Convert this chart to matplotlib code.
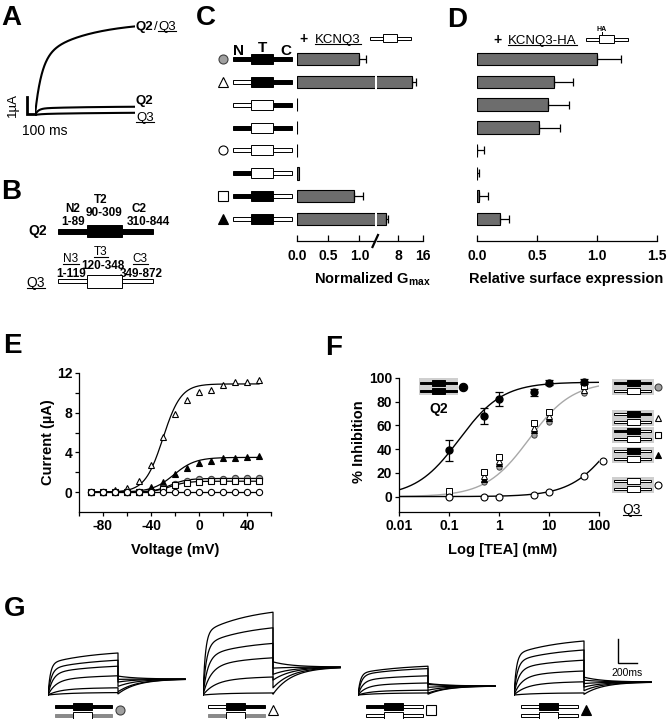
import numpy as np
import matplotlib
matplotlib.use('Agg')
import matplotlib.pyplot as plt
from matplotlib.patches import Rectangle
from matplotlib.lines import Line2D
from matplotlib.transforms import IdentityTransform

plt.rcParams['font.family'] = ['Liberation Sans', 'DejaVu Sans']
plt.rcParams['font.weight'] = 'bold'
plt.rcParams['axes.labelweight'] = 'bold'
plt.rcParams['axes.unicode_minus'] = False
plt.rcParams['mathtext.fontset'] = 'custom'
plt.rcParams['mathtext.rm'] = 'Liberation Sans'
plt.rcParams['mathtext.bf'] = 'Liberation Sans:bold'

W, H = 667, 719
BAR_GRAY = '#6d6d6d'

# ---------------- data ----------------
# chimeras: N-terminus, core (T), C-terminus   k = KCNQ2 part, w = KCNQ3 part
chimeras = [('k', 'k', 'k'), ('w', 'k', 'k'), ('w', 'w', 'k'), ('k', 'w', 'k'),
            ('w', 'w', 'w'), ('k', 'w', 'w'), ('k', 'k', 'w'), ('w', 'k', 'w')]
chimera_marks = ['gcircle', 'otri', None, None, 'ocircle', None, 'osquare', 'ftri']

# C: normalized Gmax (+ KCNQ3)
gmax_norm = [1.0, 12.5, 0.006, 0.006, 0.006, 0.03, 0.92, 3.9]
gmax_err = [0.11, 1.3, 0.0, 0.0, 0.0, 0.0, 0.14, 0.6]
# D: relative surface expression (+ KCNQ3-HA)
surf_expr = [1.0, 0.64, 0.59, 0.52, 0.004, 0.004, 0.02, 0.19]
surf_err = [0.2, 0.16, 0.18, 0.17, 0.055, 0.015, 0.07, 0.08]

# E: current-voltage relations
voltage = [-90, -80, -70, -60, -50, -40, -30, -20, -10, 0, 10, 20, 30, 40, 50]
cur_otri = [0.0, 0.03, 0.2, 0.44, 1.1, 2.7, 5.6, 7.9, 9.3, 10.1, 10.3, 10.8, 11.05, 11.05, 11.3]
cur_ftri = [0.0, 0.0, 0.0, 0.0, 0.05, 0.54, 1.04, 1.78, 2.45, 2.9, 3.16, 3.4, 3.46, 3.5, 3.6]
cur_gcircle = [0.0, 0.0, 0.0, 0.0, 0.0, 0.05, 0.37, 0.87, 1.14, 1.28, 1.33, 1.36, 1.38, 1.38, 1.38]
cur_osquare = [0.0, 0.0, 0.0, 0.0, 0.0, 0.03, 0.27, 0.67, 0.97, 1.07, 1.1, 1.1, 1.1, 1.1, 1.1]
cur_ocircle = [0.0, 0.0, 0.0, 0.0, 0.0, 0.0, 0.0, 0.0, 0.0, 0.0, 0.0, 0.0, 0.0, 0.0, 0.0]
# Boltzmann fit parameters: Imax, V1/2, slope
iv_fit_imax = [10.9, 3.5, 1.38, 1.1, 0.0]
iv_fit_vhalf = [-30, -21, -24, -24, -24]
iv_fit_k = [7.5, 9.0, 7.0, 7.0, 7.0]

# F: TEA block
tea = [0.1, 0.5, 1, 5, 10, 50]
inh_q2 = [39, 68, 82, 88, 96, 97]
inh_q2_err = [9, 7, 6, 3, 2, 2]
inh_gcircle = [1, 12, 25, 52, 63, 87]
inh_otri = [4, 17, 30, 58, 68, 90]
inh_osquare = [5, 21, 33, 62, 71, 93]
inh_ftri = [3, 15, 28, 56, 66, 97]
tea_q3 = [0.1, 0.5, 1, 5, 10, 50, 120]
inh_q3 = [0, 0, 0, 1, 4, 17, 30]
# Hill fits (n = 1): max block, IC50 (mM)
hill_max = [96.5, 97, 95]
hill_ic50 = [0.16, 4.0, 220]

# A: example traces (fast amp, fast tau, slow amp, slow tau)
a_labels = ['Q2/Q3', 'Q2', 'Q3']
a_fast = [3.3, 0.38, 0.05]
a_tfast = [80, 40, 60]
a_slow = [2.2, 0.12, 0.10]
a_tslow = [600, 600, 800]

# G: current families (uA at end of step), tail level, tail fraction
g_marks = ['gcircle', 'otri', 'osquare', 'ftri']
g_top = [('k', 'k', 'k'), ('w', 'k', 'k'), ('k', 'k', 'w'), ('w', 'k', 'w')]
g_bottom = [('g', 'w', 'g'), ('g', 'w', 'g'), ('w', 'w', 'w'), ('w', 'w', 'w')]
g1_amp = [3.5, 2.9, 2.4, 1.6, 0.6, 0.2]
g2_amp = [6.9, 5.6, 4.3, 3.1, 1.5, 0.17]
g3_amp = [2.4, 2.2, 1.6, 1.0, 0.4, 0.17]
g4_amp = [4.5, 3.75, 2.9, 2.0, 1.1, 0.17]
g_tail_level = [1.33, 2.33, 0.75, 1.08]
g_tail_frac = [0.45, 0.4, 0.4, 0.33]
g_tau_act = [25, 35, 50, 80, 120, 200]

MK = {
    'gcircle': dict(marker='o', mfc='#a0a0a0', mec='#404040'),
    'ocircle': dict(marker='o', mfc='white', mec='k'),
    'fcircle': dict(marker='o', mfc='k', mec='k'),
    'otri': dict(marker='^', mfc='white', mec='k'),
    'ftri': dict(marker='^', mfc='k', mec='k'),
    'osquare': dict(marker='s', mfc='white', mec='k'),
}
SEG = {'k': ('black', 'black'), 'w': ('white', 'black'), 'g': ('#8a8a8a', '#8a8a8a')}

fig = plt.figure(figsize=(W / 100, H / 100), dpi=100)


def px_box(l, t, r, b):
    return [l / W, 1 - b / H, (r - l) / W, (b - t) / H]


ov = fig.add_axes([0, 0, 1, 1])
ov.set_xlim(0, W)
ov.set_ylim(H, 0)
ov.axis('off')
ov.patch.set_visible(False)
ov.set_zorder(10)

ul_texts = []


def txt(x, y, s, size=10, bold=True, ha='center', ul=False, rot=0, va=None):
    # y is the vertical centre of the capitals
    if va is None:
        y = y + size * 1.389 * 0.716 / 2
        va = 'baseline'
    t = ov.text(x, y, s, fontsize=size, fontweight='bold' if bold else 'normal',
                ha=ha, va=va, rotation=rot)
    if ul:
        ul_texts.append(t)
    return t


def glyph(x, y, kind, ms=6):
    ov.plot([x], [y], ls='none', ms=ms, mew=0.8, **MK[kind])


def construct(x0, y, segs, w, th, bh, lw=0.7):
    x = x0
    for j, s in enumerate(segs):
        h = bh if j == 1 else th
        fc, ec = SEG[s]
        ov.add_patch(Rectangle((x, y - h / 2), w[j], h, fc=fc, ec=ec, lw=lw,
                               zorder=4 if j == 1 else 3))
        x += w[j]


# panel letters
for lx, ly, lab in [(1, 15, 'A'), (1, 189, 'B'), (196, 15, 'C'), (447, 17, 'D'),
                    (3, 343, 'E'), (325, 345, 'F'), (4, 606, 'G')]:
    txt(lx, ly, lab, size=20, ha='left')

# ---------------- A ----------------
axA = fig.add_axes(px_box(35, 20, 135, 116))
axA.set_xlim(0, 1225)
axA.set_ylim(-0.06, 5.59)
axA.axis('off')
t = np.linspace(0, 1225, 300)
for af, tf, asl, ts in zip(a_fast, a_tfast, a_slow, a_tslow):
    axA.plot(t, af * (1 - np.exp(-t / tf)) + asl * (1 - np.exp(-t / ts)), 'k-', lw=1.5)
ov.plot([27, 27, 35], [97, 114, 114], 'k-', lw=2, solid_joinstyle='miter')
txt(13, 105, '1µA', size=9.5, bold=False, rot=90, va='center')
txt(45, 130, '100 ms', size=10, bold=False)
txt(136, 25, 'Q2', size=9.5, ha='left')
txt(153.5, 25, '/', size=9.5, bold=False, ha='left')
txt(158, 25, 'Q3', size=9.5, bold=False, ha='left', ul=True)
txt(136, 99, 'Q2', size=9.5, ha='left')
txt(136, 116, 'Q3', size=9.5, bold=False, ha='left', ul=True)

# ---------------- B ----------------
construct(58, 231, ('k', 'k', 'k'), (29, 35, 31), 5, 12)
construct(58, 281, ('w', 'w', 'w'), (29, 35, 31), 4, 13)
txt(38, 230, 'Q2', size=10)
txt(36, 282, 'Q3', size=10, bold=False, ul=True)
for x, y, s in [(73, 208, 'N2'), (73, 221, '1-89'), (101, 199, 'T2'), (104, 212, '90-309'),
                (139, 208, 'C2'), (148, 221, '310-844'), (103, 265, '120-348'),
                (71, 273, '1-119'), (141, 273, '349-872')]:
    txt(x, y, s, size=8.5)
for x, y, s in [(71, 258, 'N3'), (101, 251, 'T3'), (140, 258, 'C3')]:
    txt(x, y, s, size=8.5, bold=False, ul=True)

# ---------------- C and D ----------------
rows = np.arange(len(chimeras))
row_lim = (7.95, -0.55)
row_top, row_bot = 46.4, 240.7
axC1 = fig.add_axes(px_box(297, row_top, 375, row_bot))
axC2 = fig.add_axes(px_box(377, row_top, 423, row_bot))
axD = fig.add_axes(px_box(477, row_top, 657, row_bot))
gmax_arr = np.array(gmax_norm)
gerr_arr = np.array(gmax_err)
c1_lim, c2_lim = (0, 1.25), (1, 16)
# left segment: every bar (long ones are clipped), error bars that end inside it
axC1.barh(rows, gmax_arr, height=0.55, color=BAR_GRAY, edgecolor='k', lw=0.8)
m1 = (gerr_arr > 0) & (gmax_arr + gerr_arr < c1_lim[1])
axC1.errorbar(gmax_arr[m1], rows[m1], xerr=[np.zeros(m1.sum()), gerr_arr[m1]],
              fmt='none', ecolor='k', elinewidth=0.9, capsize=3, capthick=0.9)
# right segment: only the bars that run past the break
m2 = gmax_arr > c2_lim[0]
axC2.barh(rows[m2], gmax_arr[m2], height=0.55, color=BAR_GRAY, edgecolor='k', lw=0.8)
axC2.errorbar(gmax_arr[m2], rows[m2], xerr=[np.zeros(m2.sum()), gerr_arr[m2]],
              fmt='none', ecolor='k', elinewidth=0.9, capsize=3, capthick=0.9)
axC1.set_xlim(*c1_lim)
axC2.set_xlim(*c2_lim)
axC1.set_xticks([0, 0.5, 1.0])
axC1.set_xticklabels(['0.0', '0.5', '1.0'])
axC2.set_xticks([8, 16])
axC2.set_xticklabels(['8', '16'])

axD.barh(rows, surf_expr, height=0.55, color=BAR_GRAY, edgecolor='k', lw=0.8)
axD.errorbar(surf_expr, rows, xerr=[np.zeros(len(rows)), surf_err],
             fmt='none', ecolor='k', elinewidth=0.9, capsize=3, capthick=0.9)
axD.set_xlim(0, 1.5)
axD.set_xticks([0, 0.5, 1.0, 1.5])
axD.set_xticklabels(['0.0', '0.5', '1.0', '1.5'])

for ax in (axC1, axC2, axD):
    ax.set_ylim(*row_lim)
    ax.set_yticks([])
    for s in ('left', 'right', 'top'):
        ax.spines[s].set_visible(False)
    ax.spines['bottom'].set_linewidth(0.9)
    ax.patch.set_visible(False)
    ax.tick_params(axis='x', direction='in', length=4, width=0.9, labelsize=10, pad=6)

# axis break mark
ov.plot([372.5, 378], [247, 235], 'k-', lw=1.6)

# construct rows next to C
for i, segs in enumerate(chimeras):
    y = H - axC1.transData.transform((0, i))[1]
    construct(233, y, segs, (18, 22, 19), 4, 10)
    if chimera_marks[i]:
        glyph(223, y, chimera_marks[i], ms=6.5)

txt(239, 50, 'N', size=11)
txt(262, 47, 'T', size=11)
txt(286, 50, 'C', size=11)
txt(304, 38, '+', size=10)
txt(315, 38, 'KCNQ3', size=9.5, bold=False, ha='left', ul=True)
construct(370, 38, ('w', 'w', 'w'), (13, 14, 14), 3, 8)
txt(497, 39, '+', size=10)
txt(508, 39, 'KCNQ3-HA', size=9.5, bold=False, ha='left', ul=True)
construct(586, 39, ('w', 'w', 'w'), (13, 15, 14), 3, 8)
ov.plot([602, 602], [32, 35], 'k-', lw=0.7)
txt(602, 29, 'HA', size=5)
txt(372, 278, r'Normalized G$_{\mathbf{max}}$', size=10.5)
txt(566, 278, 'Relative surface expression', size=10.5)

# ---------------- E ----------------
axE = fig.add_axes(px_box(79, 373, 271, 512))
vv = np.linspace(-90, 50, 200)
iv_data = [cur_otri, cur_ftri, cur_gcircle, cur_osquare, cur_ocircle]
iv_marks = ['otri', 'ftri', 'gcircle', 'osquare', 'ocircle']
for data, mk, imax, vh, k in zip(iv_data, iv_marks, iv_fit_imax, iv_fit_vhalf, iv_fit_k):
    axE.plot(vv, imax / (1 + np.exp((vh - vv) / k)), 'k-', lw=0.9, zorder=2)
    axE.plot(voltage, data, ls='none', ms=4.5, mew=0.8, zorder=3, **MK[mk])
axE.set_xlim(-100, 60)
axE.set_ylim(-2, 12)
axE.set_xticks([-80, -40, 0, 40])
axE.set_xticks([-100, -60, -20, 20, 60], minor=True)
axE.set_yticks([0, 4, 8, 12])
axE.set_yticks([2, 6, 10], minor=True)

# ---------------- F ----------------
axF = fig.add_axes(px_box(399, 378, 599, 512))
axF.set_xscale('log')
cc = np.logspace(-2, 2, 300)
fit_colors = ['k', '#a8a8a8', 'k']
for mx, ic, col in zip(hill_max, hill_ic50, fit_colors):
    axF.plot(cc, mx * cc / (cc + ic), '-', color=col, lw=1.0, zorder=2)
for data, mk in zip([inh_gcircle, inh_ftri, inh_otri, inh_osquare],
                    ['gcircle', 'ftri', 'otri', 'osquare']):
    axF.plot(tea, data, ls='none', ms=3.8, mew=0.7, zorder=3, **MK[mk])
axF.errorbar(tea, inh_q2, yerr=inh_q2_err, fmt='o', color='k', ms=5,
             elinewidth=0.9, capsize=3, capthick=0.9, zorder=4)
axF.plot(tea_q3, inh_q3, ls='none', ms=5, mew=0.8, zorder=4, clip_on=False, **MK['ocircle'])
axF.set_xlim(0.01, 100)
axF.set_ylim(-13, 100)
axF.set_xticks([0.01, 0.1, 1, 10, 100])
axF.set_xticklabels(['0.01', '0.1', '1', '10', '100'])
axF.xaxis.set_minor_locator(matplotlib.ticker.NullLocator())
axF.set_yticks([0, 20, 40, 60, 80, 100])

for ax in (axE, axF):
    for s in ('right', 'top'):
        ax.spines[s].set_visible(False)
    for s in ('left', 'bottom'):
        ax.spines[s].set_linewidth(0.9)
    ax.patch.set_visible(False)
    ax.tick_params(which='both', direction='out', length=3, width=0.9, labelsize=10, pad=2)

txt(175, 549, 'Voltage (mV)', size=10.5)
txt(48, 442, 'Current (µA)', size=10.5, rot=90, va='center')
txt(503, 549, 'Log [TEA] (mM)', size=10.5)
txt(359, 442, '% Inhibition', size=10.5, rot=90, va='center')

# F insets: Q2 homomer and chimera + Q3 pairs
ov.add_patch(Rectangle((419, 378), 39, 17, fc='#cfcfcf', ec='none', zorder=2))
construct(420, 383, ('k', 'k', 'k'), (12, 13, 12), 2.5, 5.5)
construct(420, 391, ('k', 'k', 'k'), (12, 13, 12), 2.5, 5.5)
glyph(463, 387, 'fcircle', ms=6)
txt(439, 408, 'Q2', size=10)
leg_rows = [(383, ('k', 'k', 'k'), 'gcircle'), (414, ('w', 'k', 'k'), 'otri'),
            (431, ('k', 'k', 'w'), 'osquare'), (451, ('w', 'k', 'w'), 'ftri'),
            (481, ('w', 'w', 'w'), 'ocircle')]
for y0, segs, mk in leg_rows:
    ov.add_patch(Rectangle((612, y0 - 4), 42, 16, fc='#cfcfcf', ec='none', zorder=2))
    construct(614, y0, segs, (13, 13, 11), 2.5, 5.5)
    construct(614, y0 + 8, ('w', 'w', 'w'), (13, 13, 11), 2.5, 5.5)
    glyph(658, y0 + 4, mk, ms=5)
txt(632, 509, 'Q3', size=10, bold=False, ul=True)

# ---------------- G ----------------
g_amps = [g1_amp, g2_amp, g3_amp, g4_amp]
g_start = [48, 203, 358, 514]
g_icon_x = [55, 208, 366, 521]
t_step = np.linspace(0, 735, 200)
t_tail = np.linspace(0, 705, 200)
for gi in range(4):
    ax = fig.add_axes(px_box(g_start[gi], 605, g_start[gi] + 140, 697.4))
    ax.set_xlim(0, 1470)
    ax.set_ylim(-0.2, 7.5)
    ax.axis('off')
    for amp, tf in zip(g_amps[gi], g_tau_act):
        shape = 0.7 * (1 - np.exp(-t_step / tf)) + 0.3 * (1 - np.exp(-t_step / 500))
        act = amp * shape / shape[-1]
        lvl = g_tail_level[gi]
        tail = lvl + (g_tail_frac[gi] * amp - lvl) * np.exp(-t_tail / 200)
        ax.plot(np.concatenate([t_step, 735 + t_tail]), np.concatenate([act, tail]),
                'k-', lw=0.9)
    x0 = g_icon_x[gi]
    construct(x0, 706, g_top[gi], (18, 19, 20), 3, 7)
    construct(x0, 715, g_bottom[gi], (18, 19, 20), 3, 7)
    glyph(x0 + 65, 710, g_marks[gi], ms=6.5)

ov.plot([618, 618, 637], [639, 663, 663], 'k-', lw=1.0, solid_joinstyle='miter')
txt(627, 672, '200ms', size=7.5, bold=False)

# underlines
fig.canvas.draw()
renderer = fig.canvas.get_renderer()
for tt in ul_texts:
    bb = tt.get_window_extent(renderer)
    yl = bb.y0 + 0.12 * bb.height
    fig.add_artist(Line2D([bb.x0, bb.x1], [yl, yl], transform=IdentityTransform(),
                          color='k', lw=0.8))

fig.savefig('out.png', dpi=100)
